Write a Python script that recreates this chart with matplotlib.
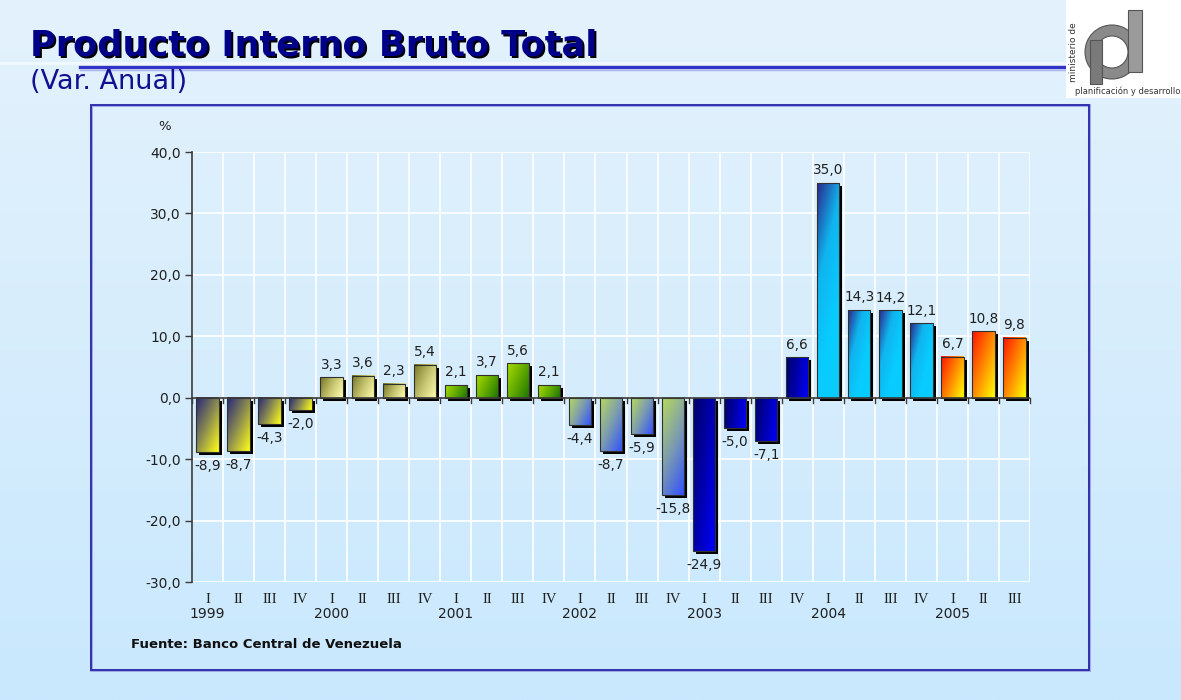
import numpy as np
import matplotlib
matplotlib.use("Agg")
import matplotlib.pyplot as plt
from matplotlib.patches import Rectangle, Wedge
from matplotlib.colors import LinearSegmentedColormap, to_rgb
import matplotlib.transforms as mtrans

# ---------------- data ----------------
quarters = ['I', 'II', 'III', 'IV'] * 6 + ['I', 'II', 'III']
years = ['1999', '2000', '2001', '2002', '2003', '2004', '2005']
values = [-8.9, -8.7, -4.3, -2.0,
          3.3, 3.6, 2.3, 5.4,
          2.1, 3.7, 5.6, 2.1,
          -4.4, -8.7, -5.9, -15.8,
          -24.9, -5.0, -7.1, 6.6,
          35.0, 14.3, 14.2, 12.1,
          6.7, 10.8, 9.8]
yticks = [-30, -20, -10, 0, 10, 20, 30, 40]

# gradient colour stops per year (top-left -> bottom-right)
year_grad = {
    '1999': ['#26267a', '#8c8c50', '#ffff18'],
    '2000': ['#767626', '#c4c470', '#ffffb0'],
    '2001': ['#a8da00', '#62aa00', '#1c7400'],
    '2002': ['#b8da5c', '#7c9cb0', '#3050ff'],
    '2003': ['#000068', '#0000b0', '#0000ff'],
    '2004': ['#2a2a8c', '#10b4ee', '#08ccff', '#08ccff'],
    '2005': ['#ff1400', '#ff8800', '#ffff00'],
}
year_diag = {'1999': 0.45, '2000': 0.45, '2001': 0.45, '2002': 0.45,
             '2003': 0.12, '2004': 0.25, '2005': 0.35}

W, H = 1181, 700
fig = plt.figure(figsize=(W / 100, H / 100), dpi=100)

# ---------------- background (pixel coords) ----------------
bg = fig.add_axes([0, 0, 1, 1], zorder=-10)
bg.set_xlim(0, W)
bg.set_ylim(H, 0)
bg.axis('off')
grad = np.linspace(0, 1, 256)[:, None]
top_c = np.array(to_rgb('#e4f2fc'))
bot_c = np.array(to_rgb('#c9e8fe'))
img = top_c[None, None, :] * (1 - grad[:, :, None]) + bot_c[None, None, :] * grad[:, :, None]
bg.imshow(np.repeat(img, 4, axis=1), extent=(0, W, H, 0), aspect='auto', zorder=0)

# chart frame
bg.add_patch(Rectangle((91, 105), 998, 565, facecolor='none', edgecolor='#a0a8e8', lw=2.2, zorder=2))
bg.add_patch(Rectangle((90.5, 104.5), 998, 565, facecolor='none', edgecolor='#2828a8', lw=1.3, zorder=3))

# title underline
bg.plot([0, 1066], [63, 63], color='#f2f8ff', lw=2, zorder=2)
bg.plot([80, 1066], [67, 67], color='#3232c4', lw=2.4, zorder=3)
bg.plot([80, 1066], [69.5, 69.5], color='#a8b4ec', lw=1, zorder=3)

# title with shadow
bg.text(32, 58, 'Producto Interno Bruto Total', fontsize=25.3, fontweight='bold',
        color='black', ha='left', va='baseline', zorder=4)
bg.text(30, 56, 'Producto Interno Bruto Total', fontsize=25.3, fontweight='bold',
        color='#000088', ha='left', va='baseline', zorder=5)
bg.text(30, 89, '(Var. Anual)', fontsize=19.5, color='#101090', ha='left',
        va='baseline', zorder=5)

# logo
bg.add_patch(Rectangle((1066, 0), 115, 98, facecolor='white', edgecolor='none', zorder=4))
bg.add_patch(Wedge((1112, 52), 27, 0, 360, width=11, facecolor='#8a8a8a', edgecolor='#555555', lw=0.8, zorder=5))
bg.add_patch(Rectangle((1128, 10), 14, 62, facecolor='#9a9a9a', edgecolor='#555555', lw=0.8, zorder=6))
bg.add_patch(Rectangle((1090, 40), 12, 44, facecolor='#7a7a7a', edgecolor='#555555', lw=0.8, zorder=6))
bg.text(1073, 52, 'ministerio de', rotation=90, fontsize=6.5, color='#333333',
        ha='center', va='center', zorder=7)
bg.text(1075, 91, 'planificación y desarrollo', fontsize=6.0, color='#333333',
        ha='left', va='center', zorder=7)

# ---------------- main axes ----------------
x0, x1 = 192 / W, 1030 / W
yb, yt = 1 - 582 / H, 1 - 152 / H
ax = fig.add_axes([x0, yb, x1 - x0, yt - yb], zorder=1)
ax.set_facecolor('none')

n = len(values)
xs = np.arange(n)
bw = 0.72

# grid
for gx in np.arange(-0.5, n, 1.0):
    ax.axvline(gx, color='white', lw=1.2, zorder=0.5)
for gy in yticks:
    ax.axhline(gy, color='white', lw=1.2, zorder=0.5)

shadow_tr = ax.transData + mtrans.ScaledTranslation(3 / 100, -3 / 100, fig.dpi_scale_trans)

px_per_unit = 430 / 70.0
px_per_cat = 838 / 27.0
wpx = bw * px_per_cat

for i, v in enumerate(values):
    yr = years[i // 4]
    cmap = LinearSegmentedColormap.from_list('g' + yr, year_grad[yr])
    hpx = abs(v) * px_per_unit
    ny = max(2, int(hpx))
    nx = 24
    xx = np.linspace(0, wpx, nx)[None, :]
    yy = np.linspace(0, hpx, ny)[:, None]
    c = year_diag[yr]
    t = (xx + c * yy) / (wpx + c * hpx)
    rgba = cmap(t)
    lo, hi = min(0, v), max(0, v)
    # shadow
    ax.add_patch(Rectangle((i - bw / 2, lo), bw, hi - lo, facecolor='black',
                           edgecolor='none', transform=shadow_tr, zorder=2))
    ax.imshow(rgba, extent=(i - bw / 2, i + bw / 2, lo, hi), origin='upper',
              aspect='auto', interpolation='bilinear', zorder=3)
    ax.add_patch(Rectangle((i - bw / 2, lo), bw, hi - lo, facecolor='none',
                           edgecolor='#303030', lw=0.8, zorder=4))
    lab = f"{v:.1f}".replace('.', ',')
    if v >= 0:
        ax.annotate(lab, (i, v), xytext=(0, 4), textcoords='offset points',
                    ha='center', va='bottom', fontsize=9.8, color='#202020', zorder=6)
    else:
        ax.annotate(lab, (i, v), xytext=(0, -5), textcoords='offset points',
                    ha='center', va='top', fontsize=9.8, color='#202020', zorder=6)

# zero axis with tick marks
ax.axhline(0, color='#3a3a3a', lw=1.2, zorder=5)
for gx in np.arange(-0.5, n, 1.0):
    ax.plot([gx, gx], [0, -0.8], color='#3a3a3a', lw=1.0, zorder=5, clip_on=False)

ax.set_xlim(-0.5, n - 0.5)
ax.set_ylim(-30, 40)
ax.set_yticks(yticks)
ax.set_yticklabels([f"{t:.1f}".replace('.', ',') for t in yticks], fontsize=10, color='#202020')
ax.tick_params(axis='y', length=5, width=1, color='#3a3a3a', pad=3)
ax.set_xticks(xs)
ax.set_xticklabels(quarters, fontsize=10.5, color='#202020', family='Liberation Serif')
ax.tick_params(axis='x', length=0, pad=8)
for s in ['top', 'right', 'bottom']:
    ax.spines[s].set_visible(False)
ax.spines['left'].set_color('#3a3a3a')
ax.spines['left'].set_linewidth(1.2)

# year labels
ytr = mtrans.blended_transform_factory(ax.transData, ax.transAxes)
for k, yr in enumerate(years):
    ax.text(4 * k, -0.058, yr, transform=ytr, ha='center', va='top', fontsize=10,
            color='#202020', clip_on=False)

# % label and source
bg.text(165, 126, '%', fontsize=9.5, color='#202020', ha='center', va='center', zorder=5)
bg.text(131, 644, 'Fuente: Banco Central de Venezuela', fontsize=9.5, fontweight='bold',
        color='#101010', ha='left', va='center', zorder=5)

fig.savefig('out.png', dpi=100)
